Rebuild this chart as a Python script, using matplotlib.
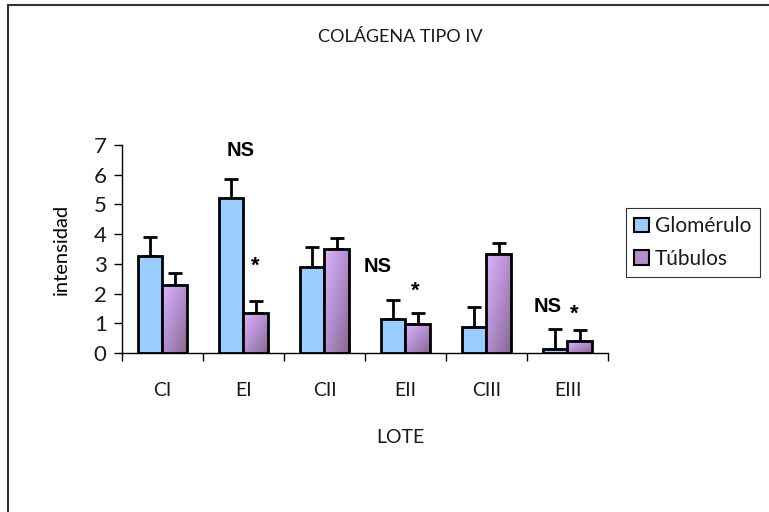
import numpy as np
import matplotlib.pyplot as plt
from matplotlib.colors import LinearSegmentedColormap
from matplotlib.lines import Line2D
from matplotlib.patches import Patch

plt.rcParams["font.family"] = ["Lato", "DejaVu Sans"]
plt.rcParams["text.color"] = "#1a1a1a"

lotes = ["CI", "EI", "CII", "EII", "CIII", "EIII"]
glomerulo = [3.28, 5.22, 2.88, 1.14, 0.87, 0.13]
glomerulo_err = [0.62, 0.63, 0.70, 0.63, 0.67, 0.67]
tubulos = [2.30, 1.34, 3.51, 0.97, 3.34, 0.40]
tubulos_err = [0.38, 0.40, 0.37, 0.37, 0.37, 0.37]

# significance marks: (x in category units, y)
marcas_ns = [(0.96, 6.8), (2.66, 2.9), (4.75, 1.58)]
marcas_star = [(1.15, 2.93), (3.12, 2.09), (5.08, 1.31)]

BLUE = "#99CCFF"
purple_cmap = LinearSegmentedColormap.from_list("tub", ["#DDB3FF", "#B48FD0", "#866A92"])

fig = plt.figure(figsize=(7.69, 5.12), dpi=100)
ax = fig.add_axes([0.1586, 0.3105, 0.632, 0.4063])

x = np.arange(len(lotes))
w = 0.3

ax.bar(x - w / 2, glomerulo, w, color=BLUE, edgecolor="black", linewidth=2, zorder=3)
tub_bars = ax.bar(x + w / 2, tubulos, w, color="none", edgecolor="black",
                  linewidth=2, zorder=4)

# diagonal shading inside each Túbulos bar
gy, gx = np.mgrid[0:1:60j, 0:1:30j]
grad = (gx + gy) / 2
for bar in tub_bars:
    x0, h = bar.get_x(), bar.get_height()
    im = ax.imshow(grad, cmap=purple_cmap, extent=[x0, x0 + w, 0, h],
                   origin="upper", aspect="auto", zorder=3)
    im.set_clip_path(bar)

ax.errorbar(x - w / 2, glomerulo, yerr=[np.zeros(6), glomerulo_err], fmt="none",
            ecolor="black", elinewidth=2, capsize=5, capthick=2, zorder=2)
ax.errorbar(x + w / 2, tubulos, yerr=[np.zeros(6), tubulos_err], fmt="none",
            ecolor="black", elinewidth=2, capsize=5, capthick=2, zorder=2)

for mx, my in marcas_ns:
    ax.text(mx, my, "NS", family="Liberation Sans", weight="bold", fontsize=14.5,
            color="black", ha="center", va="center")
for mx, my in marcas_star:
    ax.text(mx, my, "*", family="Liberation Sans", weight="bold", fontsize=16,
            color="black", ha="center", va="center")

ax.set_xlim(-0.5, len(lotes) - 0.5)
ax.set_ylim(0, 7)
ax.set_yticks(range(8))
ax.tick_params(axis="y", labelsize=16, length=6, width=1, pad=5,
               labelcolor="#1a1a1a")
ax.set_xticks(np.arange(len(lotes) + 1) - 0.5)
ax.set_xticklabels([])
ax.set_xticks(x, minor=True)
ax.set_xticklabels(lotes, minor=True)
ax.tick_params(axis="x", which="major", length=6, width=1)
ax.tick_params(axis="x", which="minor", length=0, labelsize=14, pad=21,
               labelcolor="#1a1a1a")
for s in ["top", "right"]:
    ax.spines[s].set_visible(False)
ax.spines["left"].set_linewidth(1)
ax.spines["bottom"].set_linewidth(1)

ax.set_ylabel("intensidad", fontsize=14.5, labelpad=17)
fig.text(0.52, 0.146, "LOTE", ha="center", va="center", fontsize=14)
fig.text(0.52, 0.928, "COLÁGENA TIPO IV", ha="center", va="center", fontsize=13)

handles = [Patch(facecolor=BLUE, edgecolor="black", linewidth=1.5),
           Patch(facecolor="#B090C8", edgecolor="black", linewidth=1.5)]
leg = fig.legend(handles, ["Glomérulo", "Túbulos"], loc="center left",
                 bbox_to_anchor=(0.814, 0.526), fontsize=15, frameon=True,
                 fancybox=False, edgecolor="black", handlelength=0.7,
                 handleheight=0.7, handletextpad=0.3, borderpad=0.4,
                 labelspacing=0.6, borderaxespad=0)
leg.get_frame().set_linewidth(0.8)

# chart area border (top and left edges)
fig.add_artist(Line2D([0.0104, 1.0], [0.990, 0.990], color="#333333", lw=1.5))
fig.add_artist(Line2D([0.0104, 0.0104], [0.0, 0.990], color="#333333", lw=1.5))

fig.savefig("out.png", dpi=100)
